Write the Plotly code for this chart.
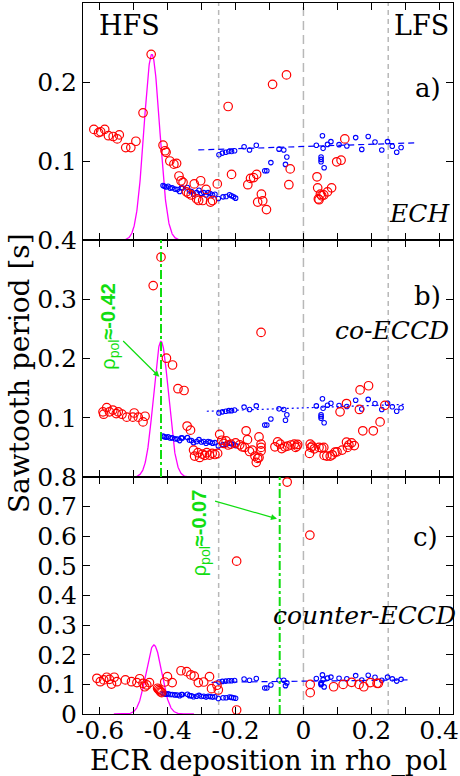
import numpy as np
import plotly.graph_objects as go
from plotly.subplots import make_subplots

# ---------------- data ----------------
# blue reference data (same in every panel)
blue_low_x = [-0.414,-0.410,-0.405,-0.399,-0.393,-0.387,-0.379,-0.372,-0.365,-0.360,-0.357,-0.342,-0.336,-0.330,-0.324,-0.315,-0.308,-0.301,-0.294,-0.287,-0.281,-0.275,-0.268,-0.261,-0.251,-0.237,-0.228,-0.218,-0.212,-0.206,-0.200]
blue_low_y = [0.069,0.068,0.067,0.068,0.0657,0.066,0.0644,0.064,0.0614,0.066,0.0657,0.0665,0.062,0.0614,0.058,0.060,0.063,0.059,0.060,0.057,0.060,0.0588,0.057,0.058,0.0525,0.0546,0.055,0.0572,0.056,0.0546,0.053]
blue_up_x = [-0.249,-0.239,-0.229,-0.220,-0.212,-0.203,-0.175,-0.159,-0.139,-0.114,-0.108,-0.096,-0.072,-0.058,-0.053,-0.049,0.038,0.052,0.052,0.052,0.056,0.058,0.061,0.071,0.081,0.105,0.128,0.154,0.172,0.191,0.211,0.231,0.248,0.262,0.275,0.288]
blue_up_y = [0.108,0.110,0.111,0.112,0.112,0.113,0.118,0.114,0.120,0.0877,0.0877,0.098,0.115,0.114,0.0957,0.105,0.120,0.105,0.102,0.099,0.132,0.116,0.0915,0.121,0.1245,0.1207,0.119,0.1296,0.1147,0.131,0.124,0.114,0.1245,0.1186,0.111,0.117]

# linear fits of the blue data, per panel: (x0, x1), (y0, y1)
fit_x = [[-0.31, 0.33], [-0.285, 0.304], [-0.271, 0.309]]
fit_y = [[0.114, 0.123], [0.111, 0.1227], [0.107, 0.115]]

# red: sawtooth periods
red_a_x = [-0.618,-0.604,-0.598,-0.586,-0.575,-0.561,-0.549,-0.543,-0.524,-0.509,-0.494,-0.473,-0.449,-0.414,-0.408,-0.405,-0.394,-0.382,-0.374,-0.367,-0.361,-0.355,-0.345,-0.339,-0.331,-0.322,-0.315,-0.309,-0.303,-0.297,-0.287,-0.274,-0.268,-0.254,-0.222,-0.212,-0.164,-0.156,-0.147,-0.138,-0.135,-0.124,-0.120,-0.109,-0.091,-0.050,-0.043,-0.039,0.040,0.042,0.044,0.046,0.050,0.054,0.060,0.071,0.083,0.098,0.111,0.122]
red_a_y = [0.140,0.136,0.137,0.140,0.132,0.131,0.128,0.133,0.117,0.117,0.125,0.161,0.235,0.120,0.113,0.111,0.100,0.096,0.097,0.081,0.075,0.073,0.061,0.059,0.057,0.071,0.052,0.050,0.075,0.050,0.064,0.048,0.050,0.071,0.169,0.083,0.070,0.078,0.079,0.083,0.048,0.058,0.0496,0.0385,0.197,0.209,0.070,0.090,0.080,0.066,0.052,0.051,0.058,0.056,0.057,0.061,0.066,0.099,0.101,0.128]

red_b_x = [-0.591,-0.589,-0.580,-0.572,-0.562,-0.552,-0.546,-0.535,-0.521,-0.503,-0.499,-0.487,-0.473,-0.467,
           -0.443,-0.420,-0.404,-0.386,-0.370,-0.352,-0.343,-0.333,
           -0.324,-0.321,-0.311,-0.306,-0.298,-0.291,-0.285,-0.277,-0.269,-0.261,-0.253,-0.247,-0.241,-0.235,-0.228,-0.222,-0.214,-0.200,-0.188,-0.181,-0.173,-0.169,-0.165,-0.159,-0.151,-0.143,-0.135,-0.131,-0.125,-0.125,-0.125,-0.139,-0.131,-0.125,
           -0.084,-0.076,-0.068,-0.064,-0.055,-0.047,-0.037,-0.027,-0.023,-0.019,-0.017,
           0.018,0.020,0.022,0.026,0.032,0.046,0.054,0.060,0.061,0.069,0.079,0.085,0.093,0.099,0.114,0.127,0.130,0.134,0.142,0.150,
           0.108,0.127,0.165,0.167,0.192,0.175,0.206,0.226,0.240]
red_b_y = [0.110,0.106,0.117,0.110,0.113,0.107,0.110,0.106,0.101,0.101,0.108,0.101,0.093,0.1025,
           0.323,0.371,0.2005,0.189,0.149,0.146,0.086,0.079,
           0.0454,0.0353,0.041,0.033,0.0387,0.0364,0.041,0.037,0.0398,0.038,0.0398,0.072,0.062,0.0566,0.061,0.054,0.0555,0.0577,0.0543,0.051,0.050,0.078,0.063,0.043,0.0454,0.0353,0.0314,0.0677,0.0555,0.050,0.044,0.0247,0.033,0.244,
           0.051,0.0594,0.0555,0.048,0.051,0.052,0.054,0.0555,0.050,0.052,0.055,
           0.0398,0.0555,0.050,0.052,0.0476,0.050,0.0487,0.050,0.0364,0.0353,0.0353,0.0375,0.042,0.0425,0.0454,0.0588,0.050,0.054,0.0577,0.053,
           0.110,0.124,0.114,0.147,0.154,0.078,0.078,0.093,0.121]

red_c_x = [-0.609,-0.599,-0.589,-0.580,-0.572,-0.566,-0.558,-0.550,-0.525,-0.507,-0.491,-0.483,-0.473,-0.468,-0.462,-0.454,-0.430,-0.427,-0.424,-0.421,-0.418,-0.409,-0.401,-0.387,-0.361,-0.344,-0.332,-0.322,-0.310,-0.294,-0.277,-0.271,-0.255,-0.251,-0.197,-0.197,-0.048,0.019,0.020,0.020,0.089,0.117,0.142,0.164,0.178,0.197,0.217,0.221]
red_c_y = [0.1205,0.109,0.115,0.124,0.117,0.101,0.124,0.109,0.115,0.109,0.106,0.119,0.1036,0.092,0.098,0.106,0.087,0.083,0.079,0.075,0.072,0.108,0.126,0.106,0.146,0.143,0.132,0.128,0.106,0.108,0.126,0.0855,0.097,0.081,0.0135,0.516,0.783,0.604,0.100,0.072,0.092,0.100,0.107,0.100,0.092,0.106,0.1036,0.1036]

# ECRH deposition profiles (gaussian): centre, peak, width per panel
dep_centre = [-0.447, -0.420, -0.441]
dep_peak = [0.235, 0.229, 0.233]
dep_sigma = [0.023, 0.022, 0.023]
dep_halfspan = 0.118

guide_x = [-0.25, 0.0, 0.25]
rho_marks = {2: -0.42, 3: -0.07}

x_ticks = [-0.6, -0.5, -0.4, -0.3, -0.2, -0.1, 0.0, 0.1, 0.2, 0.3, 0.4]
x_ticktext = ["-0.6", "", "-0.4", "", "-0.2", "", "0", "", "0.2", "", "0.4"]
y_ranges = [[0, 0.3], [0, 0.4], [0, 0.8]]
y_ticks = [[0, 0.1, 0.2, 0.3], [0, 0.1, 0.2, 0.3, 0.4], [0, 0.1, 0.2, 0.3, 0.4, 0.5, 0.6, 0.7, 0.8]]
y_ticktext = [["", "0.1", "0.2", ""], ["", "0.1", "0.2", "0.3", "0.4"],
              ["0", "0.1", "0.2", "0.3", "0.4", "0.5", "0.6", "0.7", "0.8"]]

# ---------------- figure ----------------
SERIF = "DejaVu Serif"
RED = "#ff0000"
BLUE = "#0000ff"
MAG = "#ff00ff"
GREEN = "#11dd11"
GRAY = "#b8b8b8"

fig = make_subplots(rows=3, cols=1, shared_xaxes=True, vertical_spacing=0)

reds = [(red_a_x, red_a_y), (red_b_x, red_b_y), (red_c_x, red_c_y)]
fit_dash = ["6px,4px", "2px,3px", "6px,4px"]
guide_dash = ["5px,4px", "9px,5px", "5px,4px"]

for i in range(3):
    r = i + 1
    xref = "x" if r == 1 else f"x{r}"
    yref = "y" if r == 1 else f"y{r}"
    for gx, dash in zip(guide_x, guide_dash):
        fig.add_shape(type="line", x0=gx, x1=gx, y0=0, y1=1, xref=xref, yref=f"{yref} domain",
                      line=dict(color=GRAY, width=1.5, dash=dash), layer="below")
    if r in rho_marks:
        fig.add_shape(type="line", x0=rho_marks[r], x1=rho_marks[r], y0=0, y1=1, xref=xref,
                      yref=f"{yref} domain", line=dict(color=GREEN, width=2, dash="dashdot"))
    # deposition gaussian
    gx = np.linspace(dep_centre[i] - dep_halfspan, dep_centre[i] + dep_halfspan, 300)
    gy = dep_peak[i] * np.exp(-0.5 * ((gx - dep_centre[i]) / dep_sigma[i]) ** 2)
    fig.add_trace(go.Scatter(x=gx, y=gy, mode="lines", line=dict(color=MAG, width=1.3),
                             showlegend=False, hoverinfo="skip"), row=r, col=1)
    # blue fit
    fig.add_trace(go.Scatter(x=fit_x[i], y=fit_y[i], mode="lines",
                             line=dict(color=BLUE, width=1.2, dash=fit_dash[i]),
                             showlegend=False), row=r, col=1)
    # blue points
    fig.add_trace(go.Scatter(x=blue_low_x + blue_up_x, y=blue_low_y + blue_up_y, mode="markers",
                             marker=dict(symbol="circle-open", size=4.5, color=BLUE, line=dict(width=1.1)),
                             showlegend=False), row=r, col=1)
    # red points
    fig.add_trace(go.Scatter(x=reds[i][0], y=reds[i][1], mode="markers",
                             marker=dict(symbol="circle-open", size=8.5, color=RED, line=dict(width=1.2)),
                             showlegend=False), row=r, col=1)

axis_common = dict(showline=True, linecolor="black", linewidth=1.2, mirror="ticks",
                   ticks="inside", ticklen=7, tickwidth=1.2, tickcolor="black",
                   showgrid=False, zeroline=False, automargin=False,
                   tickfont=dict(family=SERIF, size=25, color="black"))

for i in range(3):
    r = i + 1
    fig.update_xaxes(range=[-0.65, 0.441], tickvals=x_ticks, ticktext=x_ticktext,
                     showticklabels=(r == 3), row=r, col=1, **axis_common)
    fig.update_yaxes(range=y_ranges[i], tickvals=y_ticks[i], ticktext=y_ticktext[i],
                     row=r, col=1, **axis_common)
fig.update_xaxes(ticklabelstandoff=-6, row=3, col=1)

# ---------------- annotations ----------------
def txt(text, x, y, xref, yref, size=25, italic=False, xanchor="center", color="black",
        family=SERIF, angle=0, xshift=0):
    fig.add_annotation(text=(f"<i>{text}</i>" if italic else text), x=x, y=y, xref=xref, yref=yref,
                       showarrow=False, xanchor=xanchor, yanchor="middle", textangle=angle,
                       xshift=xshift, font=dict(family=family, size=size, color=color))

txt("HFS", -0.512, 0.271, "x", "y", size=27)
txt("LFS", 0.348, 0.271, "x", "y", size=27)
txt("a)", 0.412, 0.192, "x", "y", size=26, xanchor="right")
txt("ECH", 0.43, 0.034, "x", "y", italic=True, xanchor="right", xshift=3)
txt("b)", 0.412, 0.306, "x2", "y2", size=26, xanchor="right")
txt("co-ECCD", 0.43, 0.247, "x2", "y2", italic=True, xanchor="right", xshift=2)
txt("c)", 0.403, 0.598, "x3", "y3", size=26, xanchor="right")
txt("counter-ECCD", 0.43, 0.334, "x3", "y3", italic=True, xanchor="right", xshift=9)

txt("ρ<sub>pol</sub><b>≈-0.42</b>", -0.571, 0.255, "x2", "y2", size=20, color=GREEN,
    family="Liberation Sans", angle=-90)
txt("ρ<sub>pol</sub><b>≈-0.07</b>", -0.305, 0.610, "x3", "y3", size=20, color=GREEN,
    family="Liberation Sans", angle=-90)

fig.add_annotation(x=-0.425, y=0.169, ax=-0.536, ay=0.232, xref="x2", yref="y2", axref="x2", ayref="y2",
                   text="", showarrow=True, arrowhead=2, arrowsize=1, arrowwidth=1.2, arrowcolor=GREEN)
fig.add_annotation(x=-0.078, y=0.659, ax=-0.265, ay=0.720, xref="x3", yref="y3", axref="x3", ayref="y3",
                   text="", showarrow=True, arrowhead=2, arrowsize=1, arrowwidth=1.2, arrowcolor=GREEN)

txt("ECR deposition in rho_pol", 0.5, -0.066, "paper", "paper", size=27)
txt("Sawtooth period [s]", -0.172, 0.48, "paper", "paper", size=28, angle=-90)

fig.update_layout(width=460, height=776, margin=dict(l=83, r=7, t=3, b=62),
                  paper_bgcolor="white", plot_bgcolor="white", showlegend=False)

fig.write_html("out.html")
